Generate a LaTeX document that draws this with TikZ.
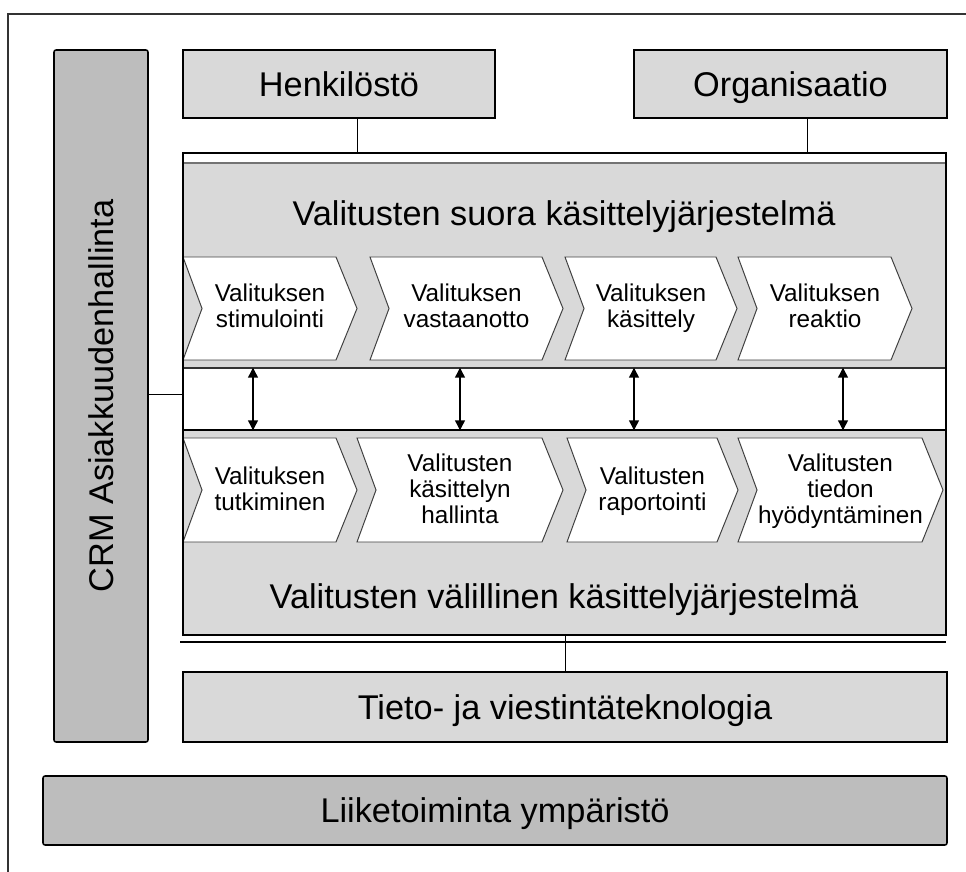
\documentclass[tikz,border=0pt]{standalone}
\usepackage{fontspec}
\setmainfont{Liberation Sans}
\usetikzlibrary{fit,arrows.meta}
\definecolor{boxgrey}{RGB}{217,217,217}
\definecolor{bargrey}{RGB}{189,189,189}
\tikzset{
  box/.style={inner sep=0pt, draw, line width=1.1pt, fill=boxgrey},
  bar/.style={inner sep=0pt, draw, line width=1.1pt, fill=bargrey, rounded corners=1.5pt},
  biglabel/.style={font=\fontsize{24.4}{26}\selectfont, text height=17.5pt, text depth=0pt, inner sep=0pt},
  chev/.style={draw=black!75, line width=0.7pt, fill=white},
  chevlabel/.style={font=\fontsize{17.3}{18.5}\selectfont, align=center, text depth=0pt, inner sep=0pt},
  dbl/.style={{Triangle[length=7pt,width=7pt]}-{Triangle[length=7pt,width=7pt]}, line width=0.9pt},
}
\begin{document}
\begin{tikzpicture}[x=0.025cm, y=-0.025cm]
\useasboundingbox (0,0) rectangle (966,872);
% frame
\draw[line width=0.9pt, black!80] (966,14) -- (8,14) -- (8,872);

% side bar
\node[bar, fit={(54,50) (148,742)}] (crm) {};
\node[biglabel, rotate=90] (crmlabel) at (crm.center) {CRM Asiakkuudenhallinta};

% top boxes
\node[box, fit={(183,50) (495,118)}] (henk) {};
\node[biglabel] (henklabel) at (henk.center) {Henkilöstö};
\node[box, fit={(634,50) (947,118)}] (org) {};
\node[biglabel] (orglabel) at (org.center) {Organisaatio};

% main system
\fill[boxgrey] (183,163) rectangle (946,368);
\fill[boxgrey] (183,430) rectangle (946,635);
\draw[black!55, line width=0.8pt] (183,163) -- (946,163);
\draw[black!80, line width=0.8pt] (183,368) -- (946,368);
\draw[line width=0.9pt] (183,430) -- (946,430);
\node[inner sep=0pt, fit={(183,368) (946,430)}] (band) {};
\node[biglabel] (suora) at (564,213) {Valitusten suora käsittelyjärjestelmä};
\node[biglabel] (valill) at (564,596) {Valitusten välillinen käsittelyjärjestelmä};

\foreach \a/\b/\nm/\txt in {183/357/s1/{Valituksen\\stimulointi},
    370/563/s2/{Valituksen\\vastaanotto}, 565/737/s3/{Valituksen\\käsittely},
    738/912/s4/{Valituksen\\reaktio}}{
  \draw[chev] (\a,257) -- (\b-21,257) -- (\b,308.5) -- (\b-21,360) -- (\a,360) -- (\a+19,308.5) -- cycle;
  \node[chevlabel] (\nm) at ({(\a+\b)/2},306) {\txt};
}
\foreach \a/\b/\nm/\txt in {183/357/v1/{Valituksen\\tutkiminen},
    357/563/v2/{Valitusten\\käsittelyn\\hallinta}, 567/738/v3/{Valitusten\\raportointi},
    738/943/v4/{Valitusten\\tiedon\\hyödyntäminen}}{
  \draw[chev] (\a,438) -- (\b-21,438) -- (\b,490) -- (\b-21,542) -- (\a,542) -- (\a+19,490) -- cycle;
  \node[chevlabel] (\nm) at ({(\a+\b)/2},489) {\txt};
}

\foreach \x in {253,460,634,843}
  \draw[dbl] (band.north -| \x,0) -- (band.south -| \x,0);

\node[inner sep=0pt, draw, line width=1.4pt, fit={(183,153) (946,635)}] (main) {};
\draw[line width=1.4pt] (180,642) -- (946,642);

% bottom boxes
\node[box, fit={(183,672) (947,742)}] (tieto) {};
\node[biglabel] (tietolabel) at (tieto.center) {Tieto- ja viestintäteknologia};
\node[bar, fit={(43,776) (947,845)}] (liike) {};
\node[biglabel] (liikelabel) at (liike.center) {Liiketoiminta ympäristö};

% connectors
\draw[line width=0.7pt] (henk.south) ++(18,0) -- ++(0,35);
\draw[line width=0.7pt] (org.south) ++(17,0) -- ++(0,35);
\draw[line width=0.7pt] (crm.east |- main.west) -- (main.west);
\draw[line width=0.7pt] (tieto.north) -- (tieto.north |- main.south);
\end{tikzpicture}
\end{document}
